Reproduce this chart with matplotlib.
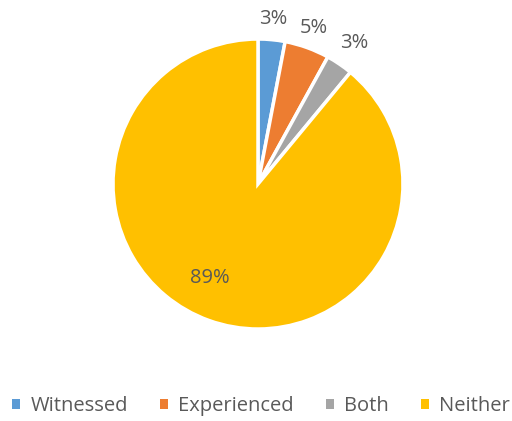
import numpy as np
import matplotlib.pyplot as plt
from matplotlib.patches import Patch

categories = ['Witnessed', 'Experienced', 'Both', 'Neither']
values = [3, 5, 3, 89]
colors = ['#5B9BD5', '#ED7D31', '#A5A5A5', '#FFC000']
TEXT_COLOR = '#595959'
LABEL_DIST = [1.145, 1.145, 1.18]   # outside labels, in pie radii

plt.rcParams['font.family'] = ['Open Sans', 'DejaVu Sans']

fig = plt.figure(figsize=(5.12, 4.21), dpi=100)
ax = fig.add_axes([0.2207, 0.2185, 0.5664, 0.6888])

wedges, texts, autotexts = ax.pie(
  values, colors=colors, startangle=90, counterclock=False,
  autopct=lambda p: f'{p:.0f}%', pctdistance=1.17,
  wedgeprops=dict(edgecolor='white', linewidth=2.5),
  textprops=dict(color=TEXT_COLOR, fontsize=14.5, clip_on=False))
ax.set_aspect('equal')
ax.set_xlim(-1, 1)
ax.set_ylim(-1, 1)

for w, t, d in zip(wedges, autotexts, LABEL_DIST):
  mid = np.deg2rad((w.theta1 + w.theta2) / 2)
  t.set_position((d * np.cos(mid), d * np.sin(mid)))

# big slice label sits inside
big = autotexts[-1]
ang = np.deg2rad(-117)
big.set_position((0.73 * np.cos(ang), 0.73 * np.sin(ang)))

handles = [Patch(facecolor=c, edgecolor='none') for c in colors]
fig.legend(handles, categories, loc='center', bbox_to_anchor=(0.51, 0.036), ncol=4,
           frameon=False, handlelength=0.4, handleheight=0.4, handletextpad=0.5,
           columnspacing=1.6, fontsize=14.5, labelcolor=TEXT_COLOR)

fig.savefig('out.png', dpi=100)
